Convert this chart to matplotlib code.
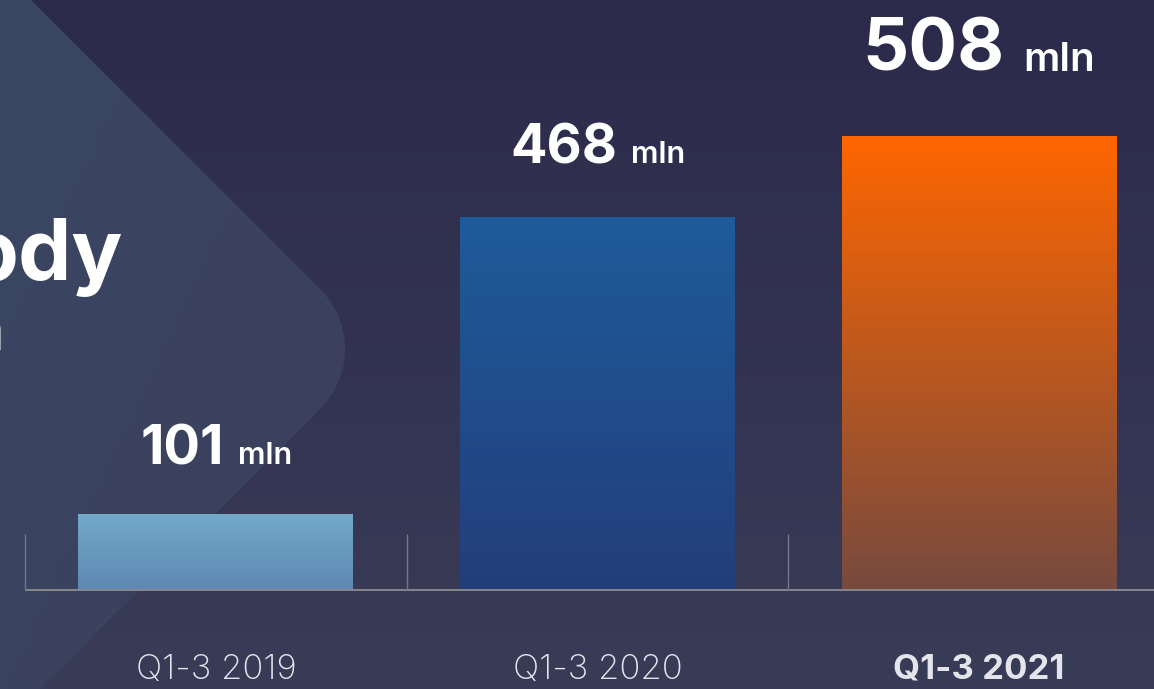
import numpy as np
import matplotlib
matplotlib.use('Agg')
import matplotlib.pyplot as plt
from matplotlib.colors import LinearSegmentedColormap, to_rgb
from matplotlib.patches import Polygon
from matplotlib.offsetbox import TextArea, HPacker, AnnotationBbox

# data
categories = ['Q1-3 2019', 'Q1-3 2020', 'Q1-3 2021']
values = [101, 468, 508]        # label values, mln
bar_heights = [85, 417, 508]    # bar heights as drawn in the picture (not to scale there)
unit = 'mln'

# style
top_colors = ['#72a9ca', '#1e5b9b', '#ff6600']
bottom_colors = ['#5e88b2', '#233e7a', '#774a3e']
num_sizes = [39, 39, 52]
unit_sizes = [22, 22, 29]
label_pads = [28, 31, 36]
cat_weights = ['light', 'light', 'bold']

plt.rcParams['font.family'] = ['Inter', 'DejaVu Sans']

W, H = 1154, 689
fig = plt.figure(figsize=(W / 100, H / 100), dpi=100)

# background layer, pixel coordinates
bg = fig.add_axes([0, 0, 1, 1])
bg.set_xlim(0, W)
bg.set_ylim(H, 0)
bg.axis('off')
vgrad = np.linspace(0, 1, 256)[:, None]
bg.imshow(vgrad, cmap=LinearSegmentedColormap.from_list('bg', ['#2c2a4b', '#393c57']),
          extent=(0, W, H, 0), aspect='auto', zorder=0)

# lighter rounded shape on the left
r, cx, cy = 85, 260, 349
th = np.linspace(-np.pi / 4, np.pi / 4, 40)
arc = np.column_stack([cx + r * np.cos(th), cy + r * np.sin(th)])
pts = np.vstack([[-20, 0], [31, 0], arc, [40, H], [-20, H]])
shape = Polygon(pts, closed=True, facecolor='none', edgecolor='none')
bg.add_patch(shape)
# 2d fade: corners top-left, top-right, bottom-left, bottom-right
c_tl, c_tr = np.array(to_rgb('#3a4762')), np.array(to_rgb('#3c4260'))
c_bl, c_br = np.array(to_rgb('#3a4360')), np.array(to_rgb('#3a3e5a'))
u = np.linspace(0, 1, 64)[None, :, None]
v = np.linspace(0, 1, 64)[:, None, None]
rgb = (1 - v) * ((1 - u) * c_tl + u * c_tr) + v * ((1 - u) * c_bl + u * c_br)
im = bg.imshow(rgb, extent=(0, 400, H, 0), aspect='auto', zorder=1)
im.set_clip_path(shape)
bg.set_xlim(0, W)
bg.set_ylim(H, 0)

# cut-off title text
bg.text(123, 280, 'ody', ha='right', va='baseline', fontsize=61, fontweight='bold', color='white', zorder=2)
bg.text(3, 350, 'n', ha='right', va='baseline', fontsize=43, fontweight='bold', color='white', zorder=2)

# chart
ax = fig.add_axes([0, 0, 1, 1])
ax.patch.set_alpha(0)
ax.axis('off')
x = np.arange(len(categories))
px_x = 381.5
x0 = 216.0
py = 454.0 / 508
xlim = (-x0 / px_x, (W - x0) / px_x)
ylim = (-(H - 590) / py, 590 / py)
width = 275 / px_x

bars = ax.bar(x, bar_heights, width=width, color='none', edgecolor='none', zorder=2)
for i, b in enumerate(bars):
    cmap = LinearSegmentedColormap.from_list('b%d' % i, [top_colors[i], bottom_colors[i]])
    gi = ax.imshow(vgrad, cmap=cmap, aspect='auto', zorder=2,
                   extent=(b.get_x(), b.get_x() + b.get_width(), 0, b.get_height()))
    gi.set_clip_path(b)

ax.set_xlim(xlim)
ax.set_ylim(ylim)

ax.hlines(0, -0.5, xlim[1], color='#8c8c90', lw=1.3, zorder=3)
ax.vlines(x - 0.5, 0, 56 / py, color='#75768a', lw=1, zorder=3)

for i, cat in enumerate(categories):
    ax.text(x[i], -(670 - 590) / py, cat, ha='center', va='center', fontsize=25,
            fontweight=cat_weights[i], color='#e4e5ec')

for i, v in enumerate(values):
    num = TextArea(str(v), textprops=dict(size=num_sizes[i], weight='bold', color='white'))
    un = TextArea(unit, textprops=dict(size=unit_sizes[i], weight='semibold', color='white'))
    box = HPacker(children=[num, un], align='baseline', pad=0, sep=num_sizes[i] * 0.26)
    ab = AnnotationBbox(box, (x[i], bar_heights[i]), xybox=(0, label_pads[i]),
                        xycoords='data', boxcoords='offset points', box_alignment=(0.5, 0),
                        frameon=False, pad=0)
    ax.add_artist(ab)

fig.savefig('out.png', dpi=100)
